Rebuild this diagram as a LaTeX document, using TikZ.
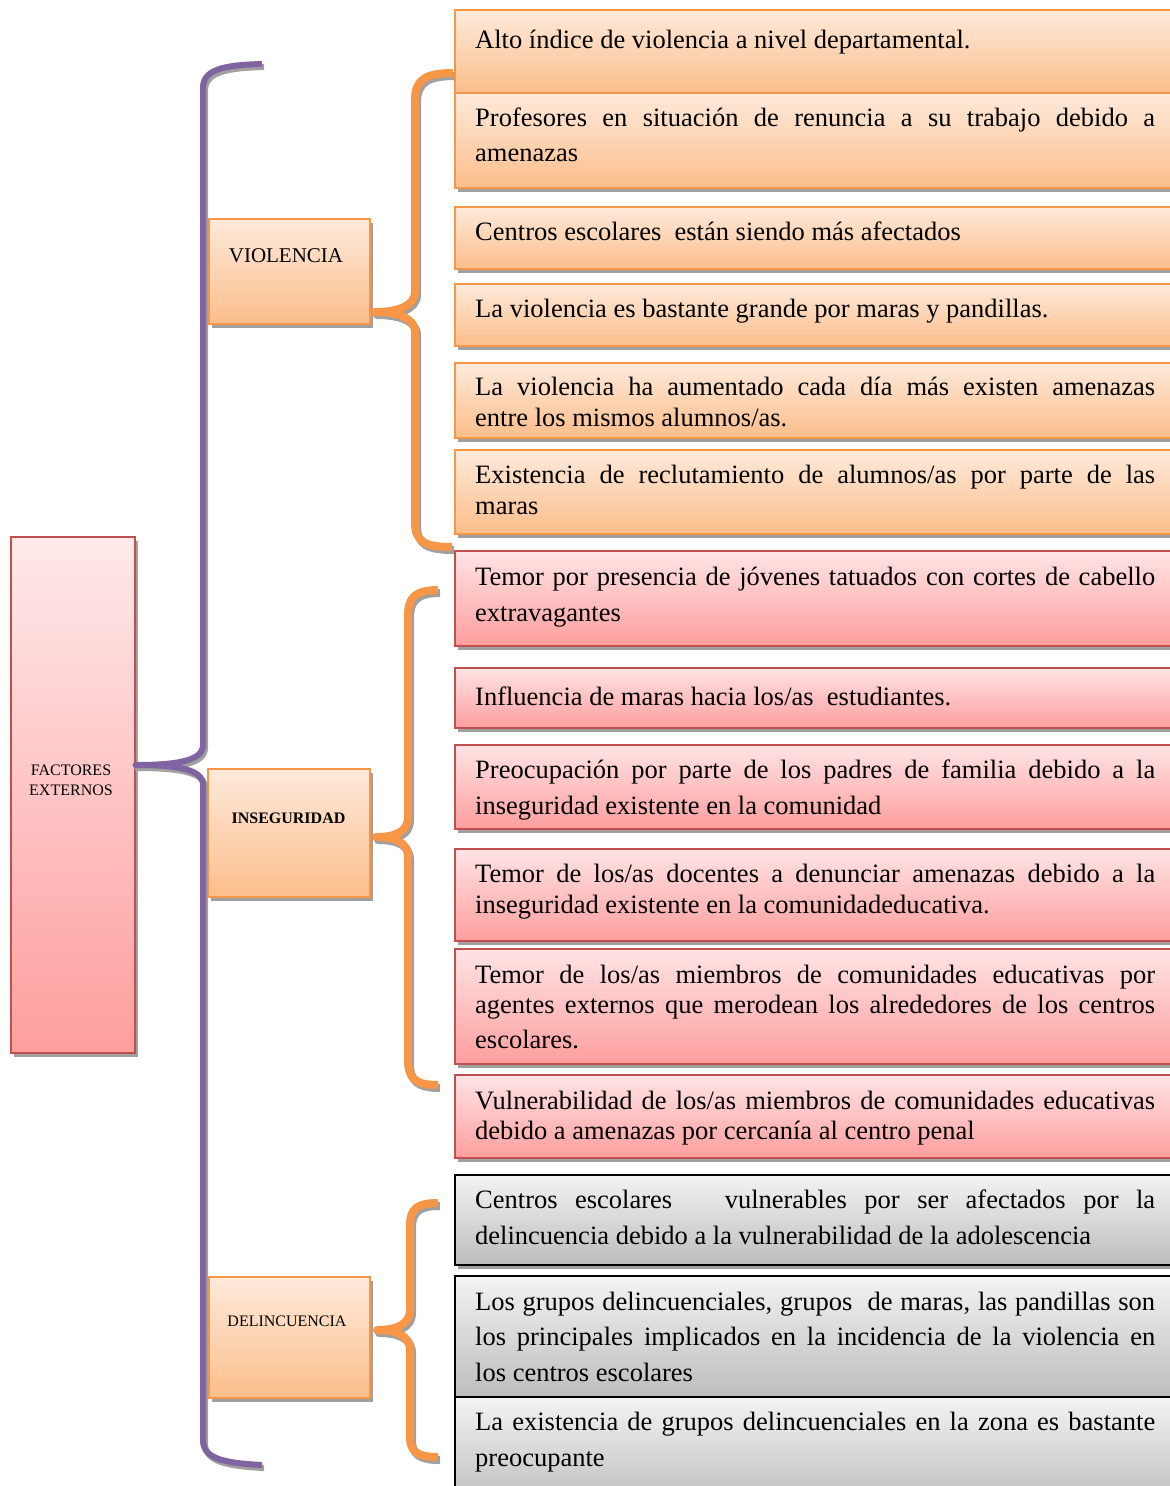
\documentclass[tikz,border=0pt]{standalone}
\usepackage{fontspec}
\setmainfont{Liberation Serif}
\usetikzlibrary{shadows}
\definecolor{oBorder}{HTML}{F79646}
\definecolor{oTop}{HTML}{FEEADB}
\definecolor{oBot}{HTML}{FBBE8B}
\definecolor{rBorder}{HTML}{C0504D}
\definecolor{rTop}{HTML}{FFE4E5}
\definecolor{rBot}{HTML}{FE9E9E}
\definecolor{gTop}{HTML}{F3F3F3}
\definecolor{gBot}{HTML}{BDBDBD}
\definecolor{purp}{HTML}{8064A2}
\definecolor{shad}{HTML}{A0A0A0}
\newcommand\jl[1]{\makebox[\linewidth][s]{#1}\\}
\tikzset{
  shadowed/.style={drop shadow={shadow xshift=3pt, shadow yshift=-4pt, fill=shad, opacity=1}},
  basebox/.style={rectangle, inner sep=0pt, anchor=north west, shadowed},
  obox/.style={basebox, draw=oBorder, line width=1.5pt, top color=oTop, bottom color=oBot},
  rbox/.style={basebox, draw=rBorder, line width=1.5pt, top color=rTop, bottom color=rBot},
  gbox/.style={basebox, draw=black, line width=1.8pt, top color=gTop, bottom color=gBot},
  itemtext/.style={anchor=base west, inner sep=0pt},
  cattext/.style={inner sep=0pt, text=black},
  braceline/.style={line join=round},
  obrace/.style={braceline, draw=oBorder, line width=8pt},
  pbrace/.style={braceline, draw=purp, line width=6pt},
  oshad/.style={braceline, draw=shad, line width=8pt},
  pshad/.style={braceline, draw=shad, line width=6pt},
}
\newcommand\itemfont[1]{\fontsize{26.5}{#1}\selectfont}
\newcommand\purplepath{(262,64) .. controls (222,65) and (203,70) .. (203,88) -- (203,745)
  .. controls (203,760) and (180,765) .. (fe.east |- 0,765)
  .. controls (180,765) and (203,770) .. (203,785) -- (203,1440)
  .. controls (203,1458) and (222,1463) .. (262,1465)}
\newcommand\braceA{(453,73) .. controls (425,73) and (415,80) .. (415,100) -- (415,292)
  .. controls (415,307) and (395,312) .. (375,312)
  .. controls (395,312) and (415,317) .. (415,332) -- (415,522)
  .. controls (415,542) and (425,547) .. (452,547)}
\newcommand\braceB{(438,590) .. controls (415,590) and (408,598) .. (408,615) -- (408,817)
  .. controls (408,832) and (395,837) .. (376,837)
  .. controls (395,837) and (408,842) .. (408,857) -- (408,1060)
  .. controls (408,1078) and (415,1085) .. (438,1085)}
\newcommand\braceC{(438,1203) .. controls (418,1203) and (410,1208) .. (410,1225) -- (410,1310)
  .. controls (410,1325) and (395,1330) .. (377,1330)
  .. controls (395,1330) and (410,1335) .. (410,1350) -- (410,1437)
  .. controls (410,1452) and (418,1457) .. (438,1457)}
\begin{document}
\begin{tikzpicture}[x=1pt, y=-1pt]
\useasboundingbox (0,0) rectangle (1170,1486);
\clip (0,0) rectangle (1170,1486);

% main box
\node[rbox, top color=rTop!80!white, minimum width=124pt, minimum height=516pt] (fe) at (10,536) {};
\node[cattext, align=center, font=\fontsize{16}{20}\selectfont] (fet) at (71,780) {FACTORES\\EXTERNOS};

% category boxes
\node[obox, minimum width=161pt, minimum height=105pt] (viol) at (208,218) {};
\node[cattext, font=\fontsize{21}{25}\selectfont] (violt) at (286,256) {VIOLENCIA};
\node[obox, minimum width=162pt, minimum height=128pt] (inse) at (207,768) {};
\node[cattext, font=\bfseries\fontsize{16}{20}\selectfont] (inset) at (288.5,818.5) {INSEGURIDAD};
\node[obox, minimum width=161pt, minimum height=121pt] (deli) at (208,1276) {};
\node[cattext, font=\fontsize{16}{20}\selectfont] (delit) at (287,1321.5) {DELINCUENCIA};

% brace shadows
\begin{scope}[transform canvas={xshift=2pt, yshift=-3pt}]
\draw[pshad] \purplepath;
\draw[oshad] \braceA;
\draw[oshad] \braceB;
\draw[oshad] \braceC;
\end{scope}
% braces
\draw[pbrace] \purplepath;
\draw[obrace] \braceA;
\draw[obrace] \braceB;
\draw[obrace] \braceC;

% items: violencia
\node[obox, minimum width=726pt, minimum height=83pt] (b1) at (454,9) {};
\node[obox, minimum width=726pt, minimum height=95pt] (b2) at (454,92) {};
\node[obox, minimum width=726pt, minimum height=62pt] (b3) at (454,206) {};
\node[obox, minimum width=726pt, minimum height=62pt] (b4) at (454,283) {};
\node[obox, minimum width=726pt, minimum height=75pt] (b5) at (454,362) {};
\node[obox, minimum width=726pt, minimum height=84pt] (b6) at (454,449) {};
% items: inseguridad
\node[rbox, minimum width=726pt, minimum height=95pt] (b7) at (454,550) {};
\node[rbox, minimum width=726pt, minimum height=60pt] (b8) at (454,667) {};
\node[rbox, minimum width=726pt, minimum height=84pt] (b9) at (454,744) {};
\node[rbox, minimum width=726pt, minimum height=92pt] (b10) at (454,848) {};
\node[rbox, minimum width=726pt, minimum height=115pt] (b11) at (454,948) {};
\node[rbox, minimum width=726pt, minimum height=83pt] (b12) at (454,1074) {};
% items: delincuencia
\node[gbox, minimum width=726pt, minimum height=90pt] (b13) at (454,1174) {};
\node[gbox, minimum width=726pt, minimum height=121pt] (b14) at (454,1275) {};
\node[gbox, minimum width=726pt, minimum height=110pt] (b15) at (454,1396) {};

% item texts
\node[itemtext] (t1) at (475,48) {\parbox[t]{680pt}{\itemfont{31}Alto índice de violencia a nivel departamental.}};
\node[itemtext] (t2) at (475,126) {\parbox[t]{680pt}{\itemfont{35}\jl{Profesores en situación de renuncia a su trabajo debido a}amenazas}};
\node[itemtext] (t3) at (475,240) {\parbox[t]{680pt}{\itemfont{31}Centros escolares\ \ están siendo más afectados}};
\node[itemtext] (t4) at (475,317) {\parbox[t]{680pt}{\itemfont{31}La violencia es bastante grande por maras y pandillas.}};
\node[itemtext] (t5) at (475,395) {\parbox[t]{680pt}{\itemfont{31}\jl{La violencia ha aumentado cada día más existen amenazas}entre los mismos alumnos/as.}};
\node[itemtext] (t6) at (475,483) {\parbox[t]{680pt}{\itemfont{31}\jl{Existencia de reclutamiento de alumnos/as por parte de las}maras}};
\node[itemtext] (t7) at (475,585) {\parbox[t]{680pt}{\itemfont{36}\jl{Temor por presencia de jóvenes tatuados con cortes de cabello}extravagantes}};
\node[itemtext] (t8) at (475,705) {\parbox[t]{680pt}{\itemfont{31}Influencia de maras hacia los/as\ \ estudiantes.}};
\node[itemtext] (t9) at (475,778) {\parbox[t]{680pt}{\itemfont{36}\jl{Preocupación por parte de los padres de familia debido a la}inseguridad existente en la comunidad}};
\node[itemtext] (t10) at (475,882) {\parbox[t]{680pt}{\itemfont{31}\jl{Temor de los/as docentes a denunciar amenazas debido a la}inseguridad existente en la comunidadeducativa.}};
\node[itemtext] (t11) at (475,983) {\parbox[t]{680pt}{\itemfont{30}\jl{Temor de los/as miembros de comunidades educativas por}\makebox[\linewidth][s]{agentes externos que merodean los alrededores de los centros}\\[5pt]escolares.}};
\node[itemtext] (t12) at (475,1109) {\parbox[t]{680pt}{\itemfont{30}\jl{Vulnerabilidad de los/as miembros de comunidades educativas}debido a amenazas por cercanía al centro penal}};
\node[itemtext] (t13) at (475,1208) {\parbox[t]{680pt}{\itemfont{36}\jl{Centros escolares\ \ \ vulnerables por ser afectados por la}delincuencia debido a la vulnerabilidad de la adolescencia}};
\node[itemtext] (t14) at (475,1310) {\parbox[t]{680pt}{\itemfont{35.5}\jl{Los grupos delincuenciales, grupos\ \ de maras, las pandillas son}\jl{los principales implicados en la incidencia de la violencia en}los centros escolares}};
\node[itemtext] (t15) at (475,1430) {\parbox[t]{680pt}{\itemfont{36}\jl{La existencia de grupos delincuenciales en la zona es bastante}preocupante}};
\end{tikzpicture}
\end{document}
